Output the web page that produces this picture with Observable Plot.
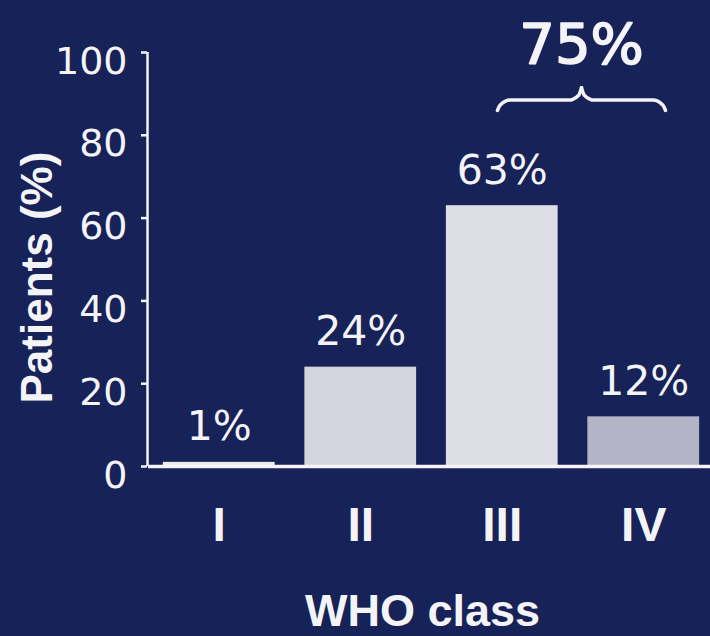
<!DOCTYPE html>
<html>
<head>
<meta charset="utf-8">
<script src="https://cdn.jsdelivr.net/npm/d3@7"></script>
<script src="https://cdn.jsdelivr.net/npm/@observablehq/plot@0.6"></script>
<style>
  html, body { margin: 0; padding: 0; background: #172258; }
</style>
</head>
<body>
<div id="chart"></div>
<script>
// ---- data ----
const classes = ["I", "II", "III", "IV"];
const patientsPct = [1, 24, 63, 12];
const yTicks = [0, 20, 40, 60, 80, 100];
const bracketClasses = ["III", "IV"];
const yLabel = "Patients (%)";
const xLabel = "WHO class";

// ---- styles ----
const barColors = ["#ececf0", "#d3d4de", "#dddde6", "#b3b5c6"];
const bg = "#172258";
const ink = "#f4f4f6";

const rows = classes.map((c, i) => ({cls: c, i, value: patientsPct[i], color: barColors[i]}));
const total = d3.sum(rows.filter(r => bracketClasses.includes(r.cls)), r => r.value);

// brace annotation (x in class-index units, y in % units)
const brace = {from: 2.466, to: 3.654, base: 86, level: 88.5, peak: 91.5, curl: 0.09};
const mid = (brace.from + brace.to) / 2;
const bracePts = [
  {h: "L", x: brace.from, y: brace.base},
  {h: "L", x: brace.from + 0.02, y: brace.level - 1.2},
  {h: "L", x: brace.from + brace.curl, y: brace.level},
  {h: "L", x: mid - brace.curl, y: brace.level},
  {h: "L", x: mid - 0.02, y: brace.level + 1.2},
  {h: "L", x: mid, y: brace.peak},
  {h: "R", x: mid, y: brace.peak},
  {h: "R", x: mid + 0.02, y: brace.level + 1.2},
  {h: "R", x: mid + brace.curl, y: brace.level},
  {h: "R", x: brace.to - brace.curl, y: brace.level},
  {h: "R", x: brace.to - 0.02, y: brace.level - 1.2},
  {h: "R", x: brace.to, y: brace.base}
];

const chart = Plot.plot({
  width: 710,
  height: 636,
  marginLeft: 148,
  marginRight: 0,
  marginTop: 52,
  marginBottom: 170,
  style: {background: bg, color: ink, fontFamily: "DejaVu Sans"},
  x: {domain: [0, classes.length], range: [148, 714]},
  y: {domain: [0, 100]},
  color: {type: "identity"},
  marks: [
    Plot.rectY(rows, {x1: d => d.i + 0.105, x2: d => d.i + 0.895, y1: 0, y2: "value", fill: "color"}),
    Plot.ruleY([0], {x1: 0, x2: classes.length, stroke: ink, strokeWidth: 3.5}),
    Plot.ruleX([0], {y1: 0, y2: 100, stroke: ink, strokeWidth: 2.5, dx: -1}),
    Plot.axisY({ticks: yTicks, tickSize: 6, tickFormat: () => "", label: null, strokeWidth: 2.5, dx: -1}),
    Plot.axisY({ticks: yTicks, tickSize: 0, tickPadding: 21, dy: 9, label: null,
      fontSize: 38, fontFamily: "DejaVu Sans", fill: ink}),
    Plot.axisX({ticks: classes.map((_, i) => i + 0.5), tickFormat: t => classes[Math.floor(t)],
      tickSize: 0, tickPadding: 40, label: null, fontSize: 48, fontWeight: "bold",
      fontFamily: "Liberation Sans", fill: ink}),
    Plot.text(rows, {x: d => d.i + 0.5, y: "value", text: d => `${d.value}%`, dy: -22,
      lineAnchor: "bottom", fontSize: 41, fontFamily: "DejaVu Sans", fill: ink}),
    Plot.line(bracePts, {x: "x", y: "y", z: "h", curve: "monotone-x", stroke: ink,
      strokeWidth: 3.5, strokeLinecap: "round"}),
    Plot.text([total], {x: mid, y: brace.peak, text: d => `${d}%`, dy: -25, lineAnchor: "bottom",
      fontSize: 56, fontFamily: "DejaVu Sans", fill: ink, stroke: ink, strokeWidth: 1.6}),
    Plot.text([xLabel], {frameAnchor: "bottom", dx: -7, dy: 159, lineAnchor: "bottom",
      fontSize: 45, fontWeight: "bold", fontFamily: "Liberation Sans", fill: ink}),
    Plot.text([yLabel], {frameAnchor: "left", rotate: -90, textAnchor: "start", lineAnchor: "middle",
      dx: -111, dy: 144, fontSize: 44, fontWeight: "bold", fontFamily: "Liberation Sans", fill: ink})
  ]
});
document.getElementById("chart").appendChild(chart);
</script>
</body>
</html>
